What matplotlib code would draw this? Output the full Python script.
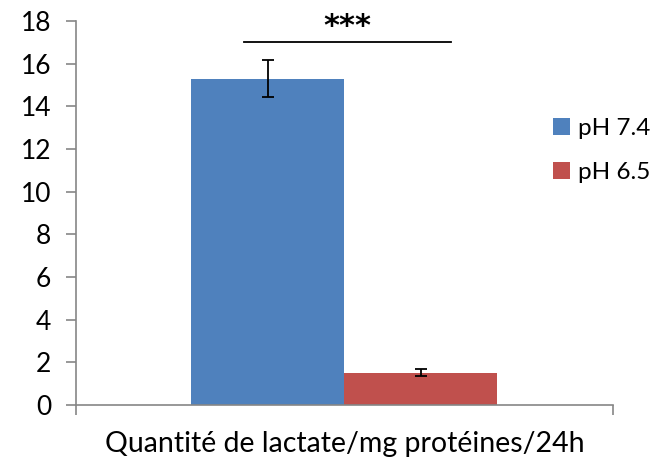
import matplotlib
matplotlib.use('Agg')
import matplotlib.pyplot as plt

series = ['pH 7.4', 'pH 6.5']
values = [15.3, 1.52]
errors = [0.85, 0.16]
colors = ['#4F81BD', '#C0504D']
category = 'Quantité de lactate/mg protéines/24h'
signif = '***'
signif_y = 17.0

plt.rcParams['font.family'] = ['Lato', 'DejaVu Sans']

fig = plt.figure(figsize=(6.64, 4.63), dpi=100)
ax = fig.add_axes([0.1145, 0.1253, 0.8085, 0.8293])

width = 0.285
offsets = [-width / 2, width / 2]
for off, v, e, c, name in zip(offsets, values, errors, colors, series):
  ax.bar(off, v, width=width, color=c, label=name)
  ax.errorbar(off, v, yerr=e, fmt='none', ecolor='black',
              elinewidth=1.3, capsize=4.5, capthick=1.3)

# significance bracket between the two bars
ax.plot([-0.187, 0.198], [signif_y, signif_y], color='black', lw=1.3)
ax.text(0.005, signif_y + 0.05, signif, ha='center', va='bottom',
        fontsize=22, fontweight='bold', family='DejaVu Sans')

ax.set_xlim(-0.5, 0.5)
ax.set_ylim(0, 18)
ax.set_yticks(range(0, 19, 2))
ax.set_xticks([-0.5, 0.5])
ax.set_xticklabels(['', ''])
ax.set_xlabel(category, fontsize=20.5, labelpad=8)

for s in ['top', 'right']:
  ax.spines[s].set_visible(False)
for s in ['left', 'bottom']:
  ax.spines[s].set_color('#868686')
  ax.spines[s].set_linewidth(1.2)
ax.tick_params(axis='y', direction='out', length=7, width=1.2,
               color='#868686', labelsize=19, pad=11)
ax.tick_params(axis='x', direction='out', length=7, width=1.2,
               color='#868686')

ax.legend(loc='upper left', bbox_to_anchor=(0.815, 0.772),
          bbox_transform=fig.transFigure, frameon=False, fontsize=17.5,
          handlelength=0.7, handleheight=0.7, handletextpad=0.3,
          labelspacing=0.95, borderpad=0)

fig.savefig('out.png', dpi=100)
